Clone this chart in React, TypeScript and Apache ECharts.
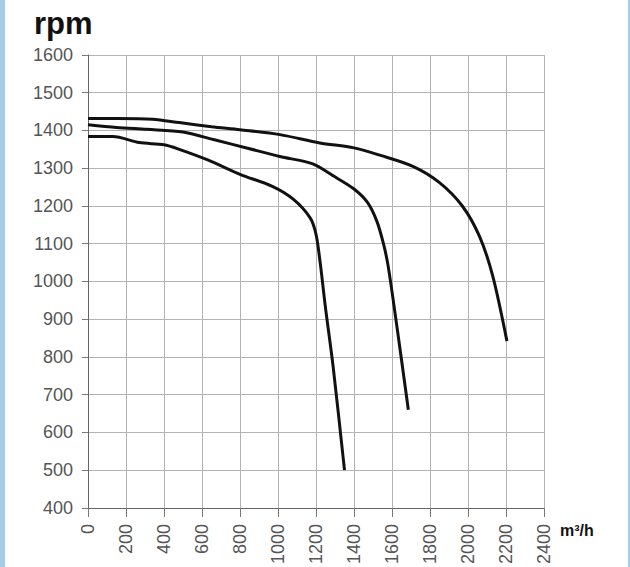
import React, { useEffect, useRef } from "react";
import * as echarts from "echarts";

const xTicks = [0, 200, 400, 600, 800, 1000, 1200, 1400, 1600, 1800, 2000, 2200, 2400];

const flowTop = [0, 150, 340, 480, 650, 800, 1010, 1220, 1400, 1540, 1710, 1850, 1970, 2060, 2130, 2205];
const rpmTop = [1432, 1432, 1430, 1421, 1410, 1402, 1389, 1367, 1354, 1334, 1305, 1262, 1200, 1120, 1015, 842];

const flowMid = [0, 150, 310, 500, 660, 840, 1010, 1180, 1290, 1400, 1470, 1520, 1555, 1580, 1626, 1686];
const rpmMid = [1415, 1408, 1403, 1396, 1376, 1353, 1331, 1312, 1280, 1245, 1210, 1160, 1100, 1040, 880, 660];

const flowLow = [0, 130, 270, 400, 480, 630, 800, 970, 1080, 1170, 1200, 1222, 1250, 1290, 1350];
const rpmLow = [1384, 1384, 1368, 1362, 1350, 1322, 1284, 1252, 1218, 1168, 1125, 1050, 930, 775, 500];

const zip = (xs: number[], ys: number[]) => xs.map((x, i) => [x, ys[i]]);

export default function App() {
  const ref = useRef<HTMLDivElement>(null);
  useEffect(() => {
    if (!ref.current) return;
    const chart = echarts.init(ref.current, null, { renderer: "svg" });
    const lineSeries = (data: number[][]) => ({
      type: "line",
      data,
      smooth: 0.3,
      showSymbol: false,
      symbol: "none",
      lineStyle: { color: "#111", width: 3 },
      z: 5,
    });
    chart.setOption({
      animation: false,
      backgroundColor: "#ffffff",
      grid: { left: 88, right: 86, top: 55, bottom: 58 },
      xAxis: {
        type: "value",
        min: 0,
        max: 2400,
        interval: 200,
        axisLine: { show: true, lineStyle: { color: "#666", width: 1 } },
        axisTick: { show: true, length: 9, lineStyle: { color: "#777" } },
        splitLine: { show: true, lineStyle: { color: "#b3b3b3", width: 1 } },
        axisLabel: {
          rotate: 90,
          margin: 16,
          color: "#555",
          fontSize: 18,
          fontFamily: "Liberation Sans, Arial, sans-serif",
          formatter: (v: number) => (xTicks.includes(v) ? String(v) : ""),
        },
      },
      yAxis: {
        type: "value",
        min: 400,
        max: 1600,
        interval: 100,
        axisLine: { show: true, lineStyle: { color: "#666", width: 1 } },
        axisTick: { show: true, length: 6, lineStyle: { color: "#777" } },
        splitLine: { show: true, lineStyle: { color: "#b3b3b3", width: 1 } },
        axisLabel: {
          margin: 15,
          color: "#555",
          fontSize: 18,
          fontFamily: "Liberation Sans, Arial, sans-serif",
          formatter: (v: number) => String(v),
        },
      },
      series: [lineSeries(zip(flowTop, rpmTop)), lineSeries(zip(flowMid, rpmMid)), lineSeries(zip(flowLow, rpmLow))],
      graphic: [
        { type: "rect", left: 0, top: 0, shape: { width: 5, height: 567 }, style: { fill: "#a3cde9" } },
        { type: "rect", left: 628, top: 0, shape: { width: 2, height: 567 }, style: { fill: "#a3cde9" } },
        {
          type: "text",
          x: 34,
          y: 23,
          style: {
            text: "rpm",
            fill: "#111",
            font: "bold 31px 'Liberation Sans', Arial, sans-serif",
            verticalAlign: "middle",
          },
        },
        {
          type: "text",
          x: 560,
          y: 530,
          style: {
            text: "m³/h",
            fill: "#111",
            font: "bold 16px 'Liberation Sans', Arial, sans-serif",
            verticalAlign: "middle",
          },
        },
      ],
    });
    return () => chart.dispose();
  }, []);
  return <div ref={ref} style={{ position: "fixed", left: 0, top: 0, width: 630, height: 567 }} />;
}
